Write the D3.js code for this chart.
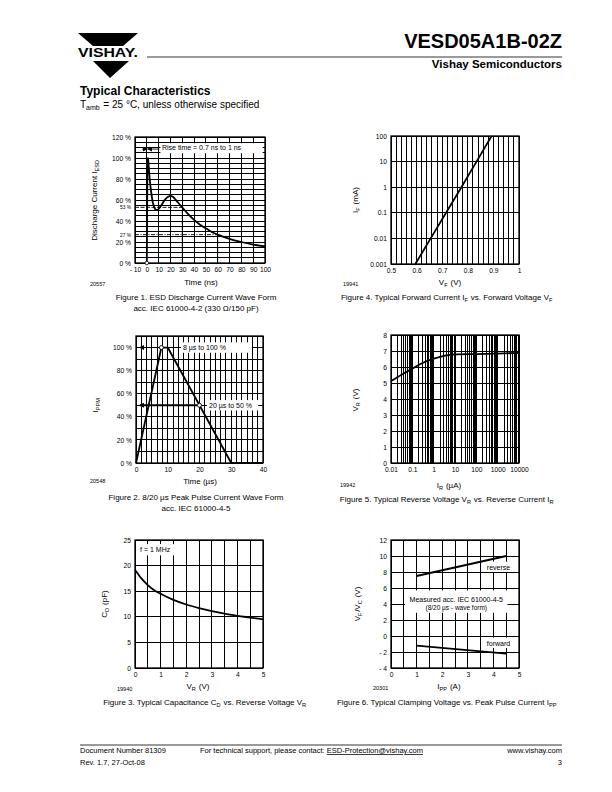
<!DOCTYPE html>
<html>
<head>
<meta charset="utf-8">
<script src="https://cdn.jsdelivr.net/npm/d3@7"></script>
<style>
body { margin: 0; background: #fff; }
text { font-family: "Liberation Sans", Arial, sans-serif; fill: #000; }
</style>
</head>
<body>
<svg id="page" width="612" height="792"></svg>
<script>
// ---- data ----
// Fig 1: ESD discharge current (ns, %)
var esdTime    = [0, 0.5, 0.8, 1.2, 2, 3, 4, 5, 6, 7, 8, 9, 10, 12, 14, 16, 18, 20, 22, 25, 28, 30, 35, 40, 45, 50, 55, 60, 70, 80, 90, 100];
var esdCurrent = [0, 90, 100, 97.5, 86, 74, 65, 58, 54, 51.5, 50.5, 50.5, 51.5, 54.5, 58, 61, 63, 64, 63, 59.5, 55.5, 53, 46.5, 41, 36.5, 33, 29.5, 27, 23, 20, 17.5, 15.8];
var esdXTicks  = [-10, 0, 10, 20, 30, 40, 50, 60, 70, 80, 90, 100];
var esdYTicks  = [0, 20, 40, 60, 80, 100, 120];
var esdMarks   = [53, 27];
// Fig 4: forward current vs forward voltage
var vfVolt    = [0.595, 0.655, 0.715, 0.775, 0.834, 0.893];
var ifCurrent = [0.001, 0.01, 0.1, 1, 10, 100];
var vfXTicks  = [0.5, 0.6, 0.7, 0.8, 0.9, 1];
var ifYTicks  = [0.001, 0.01, 0.1, 1, 10, 100];
// Fig 2: 8/20 us pulse (us, %)
var pulseTime    = [0, 8, 10, 30, 40];
var pulseCurrent = [0, 100, 100, 0, 0];
var pulseXTicks  = [0, 10, 20, 30, 40];
var pulseYTicks  = [0, 20, 40, 60, 80, 100];
// Fig 5: reverse voltage vs reverse current
var irCurrent = [0.01, 0.03, 0.1, 0.3, 1, 3, 10, 100, 1000, 10000];
var vrVolt    = [5.12, 5.5, 5.9, 6.25, 6.52, 6.7, 6.79, 6.81, 6.84, 6.88];
var irXTicks  = [0.01, 0.1, 1, 10, 100, 1000, 10000];
var vrYTicks  = [0, 1, 2, 3, 4, 5, 6, 7, 8];
// Fig 3: capacitance vs reverse voltage
var cdVolt   = [0, 0.25, 0.5, 0.75, 1, 1.5, 2, 2.5, 3, 3.5, 4, 4.5, 5];
var cdCap    = [19.2, 17.5, 16.2, 15.2, 14.5, 13.3, 12.4, 11.7, 11.1, 10.6, 10.2, 9.85, 9.5];
var cdXTicks = [0, 1, 2, 3, 4, 5];
var cdYTicks = [0, 5, 10, 15, 20, 25];
// Fig 6: clamping voltage vs peak pulse current
var clampCurrent = [1, 4.5];
var reverseVolt  = [7.5, 10];
var forwardVolt  = [-1.2, -2.2];
var clampXTicks  = [0, 1, 2, 3, 4, 5];
var clampYTicks  = [-4, -2, 0, 2, 4, 6, 8, 10, 12];

var svg = d3.select("#page");
var FONT = '"Liberation Sans", Arial, sans-serif';

var defs = svg.append("defs");
defs.append("marker").attr("id", "arr")
  .attr("viewBox", "0 0 6 6").attr("refX", 5).attr("refY", 3)
  .attr("markerWidth", 5).attr("markerHeight", 5).attr("orient", "auto")
  .attr("markerUnits", "userSpaceOnUse")
  .append("path").attr("d", "M0,0 L6,3 L0,6 Z").attr("fill", "#000");

function grid(x, y, xs, ys) {
  var g = svg.append("g").attr("stroke", "#000").attr("stroke-width", 1)
    .attr("shape-rendering", "crispEdges");
  var yr = y.range(), xr = x.range();
  g.selectAll("line.v").data(xs).enter().append("line")
    .attr("x1", function(d) { return x(d); }).attr("x2", function(d) { return x(d); })
    .attr("y1", yr[0]).attr("y2", yr[1]);
  g.selectAll("line.h").data(ys).enter().append("line")
    .attr("y1", function(d) { return y(d); }).attr("y2", function(d) { return y(d); })
    .attr("x1", xr[0]).attr("x2", xr[1]);
  svg.append("rect")
    .attr("x", xr[0]).attr("y", yr[1])
    .attr("width", xr[1] - xr[0]).attr("height", yr[0] - yr[1])
    .attr("fill", "none").attr("stroke", "#000").attr("stroke-width", 1.3);
}

function axes(x, y, xt, yt, xf, yf, size) {
  var gx = svg.append("g").attr("transform", "translate(0," + y.range()[0] + ")")
    .call(d3.axisBottom(x).tickValues(xt).tickSize(0).tickPadding(4).tickFormat(xf));
  var gy = svg.append("g").attr("transform", "translate(" + x.range()[0] + ",0)")
    .call(d3.axisLeft(y).tickValues(yt).tickSize(0).tickPadding(4).tickFormat(yf));
  [gx, gy].forEach(function(g) {
    g.select(".domain").remove();
    g.attr("font-size", size || 6.7).attr("font-family", FONT);
  });
  return gy;
}

function label(x, y, parts, opt) {
  opt = opt || {};
  var t = svg.append("text").attr("font-size", opt.size || 8)
    .attr("text-anchor", opt.anchor || "middle");
  if (opt.rotate) t.attr("transform", "translate(" + x + "," + y + ") rotate(-90)");
  else t.attr("x", x).attr("y", y);
  parts.forEach(function(p) {
    if (typeof p === "string") t.append("tspan").text(p);
    else {
      t.append("tspan").attr("font-size", (opt.size || 8) * 0.7).attr("dy", 2).text(p.sub);
      t.append("tspan").attr("dy", -2).text("\u200a");
    }
  });
  return t;
}

function box(x0, y0, x1, y1) {
  svg.append("rect").attr("x", x0).attr("y", y0)
    .attr("width", x1 - x0).attr("height", y1 - y0).attr("fill", "#fff");
}

function curve(x, y, xs, ys, w, c) {
  var line = d3.line()
    .x(function(d) { return x(d[0]); }).y(function(d) { return y(d[1]); });
  if (c) line.curve(c);
  svg.append("path").datum(d3.zip(xs, ys)).attr("d", line)
    .attr("fill", "none").attr("stroke", "#000").attr("stroke-width", w || 1.8)
    .attr("stroke-linejoin", "round");
}

// ---------- header ----------
svg.append("polygon").attr("points", "78,33 138,33 123,46 93,46").attr("fill", "#000");
svg.append("polygon").attr("points", "93,61 129,61 110,78").attr("fill", "#000");
svg.append("text").attr("x", 78).attr("y", 57).attr("font-size", 12).attr("font-weight", "bold")
  .attr("textLength", 60).attr("lengthAdjust", "spacingAndGlyphs").text("VISHAY.");
svg.append("text").attr("x", 562).attr("y", 48).attr("text-anchor", "end")
  .attr("font-size", 20).attr("font-weight", "bold").text("VESD05A1B-02Z");
svg.append("line").attr("x1", 147).attr("x2", 562).attr("y1", 57).attr("y2", 57)
  .attr("stroke", "#000").attr("stroke-width", 0.8);
svg.append("text").attr("x", 562).attr("y", 68).attr("text-anchor", "end")
  .attr("font-size", 11.5).attr("font-weight", "bold").text("Vishay Semiconductors");
svg.append("text").attr("x", 80).attr("y", 95).attr("font-size", 12)
  .attr("font-weight", "bold").text("Typical Characteristics");
label(80, 108, ["T", {sub: "amb"}, " = 25 \u00b0C, unless otherwise specified"], {size: 10, anchor: "start"});

// ---------- Figure 1 ----------
var x1s = d3.scaleLinear().domain([-10, 100]).range([135, 265]);
var y1s = d3.scaleLinear().domain([0, 120]).range([263, 137]);
grid(x1s, y1s, esdXTicks, d3.range(0, 121, 5));
axes(x1s, y1s, esdXTicks, esdYTicks,
  function(d) { return d < 0 ? "- " + (-d) : d; }, function(d) { return d + " %"; });
svg.append("g").attr("transform", "translate(135,0)")
  .call(d3.axisLeft(y1s).tickValues(esdMarks).tickSize(0).tickPadding(4)
    .tickFormat(function(d) { return d + " %"; }))
  .attr("font-size", 4.8).attr("font-family", FONT).select(".domain").remove();
esdMarks.forEach(function(m, i) {
  var tx = [30, 60][i];
  svg.append("path").attr("d", "M" + x1s(-10) + "," + y1s(m) + "H" + x1s(tx) + "V" + y1s(0))
    .attr("fill", "none").attr("stroke", "#000").attr("stroke-width", 0.9)
    .attr("stroke-dasharray", i ? "4,1.5,1,1.5" : "4,1.5");
});
box(x1s(11.5), y1s(114), x1s(98), y1s(104.5));
label(x1s(12.8), y1s(107.5), ["Rise time = 0.7 ns to 1 ns"], {size: 7, anchor: "start"});
svg.append("line").attr("x1", x1s(10.5)).attr("x2", x1s(1)).attr("y1", y1s(108.5)).attr("y2", y1s(108.5))
  .attr("stroke", "#000").attr("stroke-width", 0.9).attr("marker-end", "url(#arr)");
svg.append("line").attr("x1", x1s(-4)).attr("x2", x1s(0.3)).attr("y1", y1s(108.5)).attr("y2", y1s(108.5))
  .attr("stroke", "#000").attr("stroke-width", 0.9).attr("marker-end", "url(#arr)");
curve(x1s, y1s, esdTime, esdCurrent, 1.8, d3.curveMonotoneX);
svg.append("circle").attr("cx", x1s(0)).attr("cy", y1s(0)).attr("r", 1.8)
  .attr("fill", "#fff").attr("stroke", "#000").attr("stroke-width", 0.8);
label(97, 200, ["Discharge Current  I", {sub: "ESD"}], {rotate: true});
label(201, 285, ["Time (ns)"]);
label(90, 286, ["20557"], {size: 5.5, anchor: "start"});
label(196, 300, ["Figure 1. ESD Discharge Current Wave Form"], {size: 8});
label(196, 311, ["acc. IEC 61000-4-2 (330 \u03a9/150 pF)"], {size: 8});

// ---------- Figure 4 ----------
var x4s = d3.scaleLinear().domain([0.5, 1]).range([391, 519]);
var y4s = d3.scaleLog().domain([0.001, 100]).range([264, 136]);
grid(x4s, y4s, d3.range(0, 26).map(function(i) { return 0.5 + i * 0.02; }), ifYTicks);
axes(x4s, y4s, vfXTicks, ifYTicks, function(d) { return d; }, function(d) { return d; });
curve(x4s, y4s, vfVolt, ifCurrent, 1.8);
label(358, 200, ["I", {sub: "F"}, " (mA)"], {rotate: true});
label(450, 285, ["V", {sub: "F"}, " (V)"]);
label(343, 286, ["19941"], {size: 5.5, anchor: "start"});
label(447, 300, ["Figure 4. Typical Forward Current I", {sub: "F"}, " vs. Forward Voltage V", {sub: "F"}], {size: 8});

// ---------- Figure 2 ----------
var x2s = d3.scaleLinear().domain([0, 40]).range([136, 263]);
var y2s = d3.scaleLinear().domain([0, 110]).range([463, 336]);
grid(x2s, y2s, d3.range(0, 25).map(function(i) { return i * 40 / 24; }), d3.range(0, 111, 10));
axes(x2s, y2s, pulseXTicks, pulseYTicks, function(d) { return d; }, function(d) { return d + " %"; });
box(x2s(14.2), y2s(104.5), x2s(36.5), y2s(95.5));
box(x2s(22.3), y2s(54.5), x2s(38.5), y2s(45.5));
label(x2s(14.8), y2s(97.8), ["8 \u00b5s to 100 %"], {size: 7, anchor: "start"});
label(x2s(23), y2s(47.8), ["20 \u00b5s to 50 %"], {size: 7, anchor: "start"});
svg.append("line").attr("x1", x2s(7.4)).attr("x2", x2s(1.2)).attr("y1", y2s(100)).attr("y2", y2s(100))
  .attr("stroke", "#000").attr("stroke-width", 1).attr("marker-end", "url(#arr)");
svg.append("line").attr("x1", x2s(19.3)).attr("x2", x2s(1.2)).attr("y1", y2s(50)).attr("y2", y2s(50))
  .attr("stroke", "#000").attr("stroke-width", 1.8).attr("marker-end", "url(#arr)");
curve(x2s, y2s, pulseTime, pulseCurrent, 1.8);
[[8, 100], [20, 50]].forEach(function(p) {
  svg.append("circle").attr("cx", x2s(p[0])).attr("cy", y2s(p[1])).attr("r", 2)
    .attr("fill", "#fff").attr("stroke", "#000").attr("stroke-width", 0.9);
});
label(98, 405, ["I", {sub: "PPM"}], {rotate: true});
label(200, 484, ["Time (\u00b5s)"]);
label(90, 483, ["20548"], {size: 5.5, anchor: "start"});
label(196, 500, ["Figure 2. 8/20 \u00b5s Peak Pulse Current Wave Form"], {size: 8});
label(196, 511, ["acc. IEC 61000-4-5"], {size: 8});

// ---------- Figure 5 ----------
var x5s = d3.scaleLog().domain([0.01, 10000]).range([391, 519]);
var y5s = d3.scaleLinear().domain([0, 8]).range([463, 335]);
grid(x5s, y5s, x5s.ticks(), vrYTicks);
axes(x5s, y5s, irXTicks, vrYTicks, function(d) { return d; }, function(d) { return d; });
curve(x5s, y5s, irCurrent, vrVolt, 1.8, d3.curveMonotoneX);
label(358, 400, ["V", {sub: "R"}, " (V)"], {rotate: true});
label(449, 488, ["I", {sub: "R"}, " (\u00b5A)"]);
label(340, 487, ["19942"], {size: 5.5, anchor: "start"});
label(447, 502, ["Figure 5. Typical Reverse Voltage V", {sub: "R"}, " vs. Reverse Current I", {sub: "R"}], {size: 8});

// ---------- Figure 3 ----------
var x3s = d3.scaleLinear().domain([0, 5]).range([135, 263]);
var y3s = d3.scaleLinear().domain([0, 25]).range([668, 540]);
grid(x3s, y3s, d3.range(0, 11).map(function(i) { return i * 0.5; }), cdYTicks);
axes(x3s, y3s, cdXTicks, cdYTicks, function(d) { return d; }, function(d) { return d; });
box(x3s(0.08), y3s(24.2), x3s(1.65), y3s(22));
label(x3s(0.2), y3s(22.7), ["f = 1 MHz"], {size: 7, anchor: "start"});
curve(x3s, y3s, cdVolt, cdCap, 1.8, d3.curveMonotoneX);
label(107, 604, ["C", {sub: "D"}, " (pF)"], {rotate: true});
label(198, 689, ["V", {sub: "R"}, " (V)"]);
label(117, 691, ["19940"], {size: 5.5, anchor: "start"});
label(205, 705, ["Figure 3. Typical Capacitance C", {sub: "D"}, " vs. Reverse Voltage V", {sub: "R"}], {size: 8});

// ---------- Figure 6 ----------
var x6s = d3.scaleLinear().domain([0, 5]).range([391, 519]);
var y6s = d3.scaleLinear().domain([-4, 12]).range([668, 540]);
grid(x6s, y6s, d3.range(0, 11).map(function(i) { return i * 0.5; }), clampYTicks);
axes(x6s, y6s, clampXTicks, clampYTicks, function(d) { return d; },
  function(d) { return d < 0 ? "- " + (-d) : d; });
box(x6s(3.68), y6s(9.3), x6s(4.85), y6s(8));
box(x6s(3.68), y6s(-0.2), x6s(4.85), y6s(-1.5));
box(x6s(0.55), y6s(5.7), x6s(4.55), y6s(2.9));
label(x6s(4.2), y6s(8.3), ["reverse"], {size: 7});
label(x6s(4.2), y6s(-1.2), ["forward"], {size: 7});
label(x6s(2.55), y6s(4.3), ["Measured acc. IEC 61000-4-5"], {size: 7});
label(x6s(2.55), y6s(3.2), ["(8/20 \u00b5s - wave form)"], {size: 6.5});
curve(x6s, y6s, clampCurrent, reverseVolt, 1.8);
curve(x6s, y6s, clampCurrent, forwardVolt, 1.8);
label(360, 604, ["V", {sub: "F"}, "/V", {sub: "C"}, " (V)"], {rotate: true});
label(449, 689, ["I", {sub: "PP"}, " (A)"]);
label(373, 690, ["20301"], {size: 5.5, anchor: "start"});
label(447, 705, ["Figure 6. Typical Clamping Voltage vs. Peak Pulse Current I", {sub: "PP"}], {size: 8});

// ---------- footer ----------
svg.append("line").attr("x1", 80).attr("x2", 562).attr("y1", 745).attr("y2", 745)
  .attr("stroke", "#000").attr("stroke-width", 0.8);
label(80, 753, ["Document Number 81309"], {size: 7.5, anchor: "start"});
label(80, 765, ["Rev. 1.7, 27-Oct-08"], {size: 7.5, anchor: "start"});
var sup = svg.append("text").attr("x", 200).attr("y", 753).attr("font-size", 7.5);
sup.append("tspan").text("For technical support, please contact: ");
sup.append("tspan").attr("text-decoration", "underline").text("ESD-Protection@vishay.com");
label(562, 753, ["www.vishay.com"], {size: 7.5, anchor: "end"});
label(562, 765, ["3"], {size: 7.5, anchor: "end"});
</script>
</body>
</html>
